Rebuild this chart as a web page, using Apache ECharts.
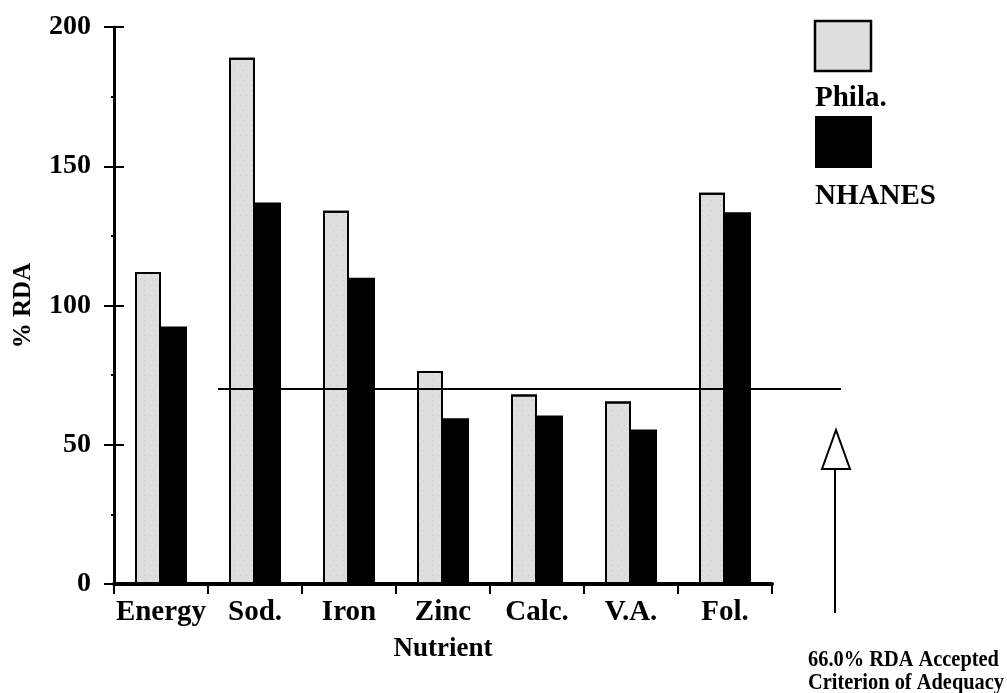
<!DOCTYPE html>
<html>
<head>
<meta charset="utf-8">
<script src="https://cdn.jsdelivr.net/npm/echarts@6/dist/echarts.min.js"></script>
<style>
html,body{margin:0;padding:0;background:#fff;}
#chart{width:1007px;height:693px;}
</style>
</head>
<body>
<div id="chart"></div>
<script>
const categories = ['Energy', 'Sod.', 'Iron', 'Zinc', 'Calc.', 'V.A.', 'Fol.'];
const philaValues = [112, 189, 134, 76.5, 68, 65.5, 140.5];
const nhanesValues = [92.5, 137, 110, 59.5, 60.5, 55.5, 133.5];
const yTicks = [0, 50, 100, 150, 200];
const criterionLevel = 70;
const seriesNames = ['Phila.', 'NHANES'];
const annotationLines = ['66.0% RDA Accepted', 'Criterion of Adequacy'];

const FONT = 'Liberation Serif';
const chart = echarts.init(document.getElementById('chart'), null, {renderer: 'canvas'});

const option = {
  animation: false,
  backgroundColor: '#fff',
  grid: {left: 114, right: 235, top: 27, bottom: 109, containLabel: false, outerBoundsMode: 'none'},
  xAxis: {
    type: 'category',
    data: categories,
    name: 'Nutrient',
    nameLocation: 'middle',
    nameGap: 52,
    nameTextStyle: {fontFamily: FONT, fontWeight: 'bold', fontSize: 27, color: '#000'},
    axisLine: {lineStyle: {color: '#000', width: 4}},
    axisTick: {show: true, length: 10, lineStyle: {color: '#000', width: 2}, alignWithLabel: false},
    axisLabel: {interval: 0, fontFamily: FONT, fontWeight: 'bold', fontSize: 29, color: '#000', margin: 14}
  },
  yAxis: [{
    type: 'value',
    min: yTicks[0],
    max: yTicks[yTicks.length - 1],
    interval: 50,
    name: '% RDA',
    nameLocation: 'middle',
    nameGap: 78,
    nameRotate: 90,
    nameTextStyle: {fontFamily: FONT, fontWeight: 'bold', fontSize: 25, color: '#000'},
    axisLine: {show: true, lineStyle: {color: '#000', width: 3}},
    axisTick: {show: true, length: 10, lineStyle: {color: '#000', width: 2}},
    minorTick: {show: true, splitNumber: 2, length: 3, lineStyle: {color: '#000', width: 2}},
    splitLine: {show: false},
    axisLabel: {fontFamily: FONT, fontWeight: 'bold', fontSize: 28, color: '#000', margin: 23}
  }, {
    type: 'value',
    position: 'left',
    min: yTicks[0],
    max: yTicks[yTicks.length - 1],
    interval: 50,
    axisLine: {show: false},
    axisTick: {show: true, inside: true, length: 10, lineStyle: {color: '#000', width: 2}},
    axisLabel: {show: false},
    splitLine: {show: false}
  }],
  series: [{
    name: seriesNames[0],
    type: 'bar',
    data: philaValues,
    barWidth: 26,
    barGap: '0%',
    itemStyle: {
      color: '#dedede',
      borderColor: '#000',
      borderWidth: 2,
      decal: {
        symbol: 'rect',
        symbolSize: 0.6,
        color: 'rgba(0,0,0,0.3)',
        dashArrayX: [[1, 5], [1, 8]],
        dashArrayY: [1, 4],
        rotation: 0
      }
    }
  }, {
    name: seriesNames[1],
    type: 'bar',
    data: nhanesValues,
    barWidth: 26,
    barGap: '0%',
    itemStyle: {color: '#000'}
  }]
};
chart.setOption(option);

const yLine = chart.convertToPixel({gridIndex: 0}, [0, criterionLevel])[1];
const textStyle = {fontFamily: FONT, fontWeight: 'bold', fontSize: 29, fill: '#000'};
chart.setOption({
  graphic: [
    {type: 'line', shape: {x1: 218, y1: yLine, x2: 841, y2: yLine}, style: {stroke: '#000', lineWidth: 2}, z: 10},
    {type: 'rect', shape: {x: 815, y: 21, width: 56, height: 50}, style: {fill: '#dedede', stroke: '#000', lineWidth: 2.5}},
    {type: 'text', left: 815, top: 84, style: Object.assign({text: seriesNames[0]}, textStyle)},
    {type: 'rect', shape: {x: 815, y: 116, width: 57, height: 52}, style: {fill: '#000'}},
    {type: 'text', left: 815, top: 182, style: Object.assign({text: seriesNames[1]}, textStyle)},
    {type: 'line', shape: {x1: 835, y1: 470, x2: 835, y2: 613}, style: {stroke: '#000', lineWidth: 2}},
    {type: 'polygon', shape: {points: [[836, 430], [822, 469], [850, 469]]}, style: {fill: '#fff', stroke: '#000', lineWidth: 2}},
    {type: 'text', x: 808, y: 648, scaleX: 0.85, style: Object.assign({}, textStyle, {text: annotationLines[0], fontSize: 24})},
    {type: 'text', x: 808, y: 671, scaleX: 0.85, style: Object.assign({}, textStyle, {text: annotationLines[1], fontSize: 24})}
  ]
});
</script>
</body>
</html>
